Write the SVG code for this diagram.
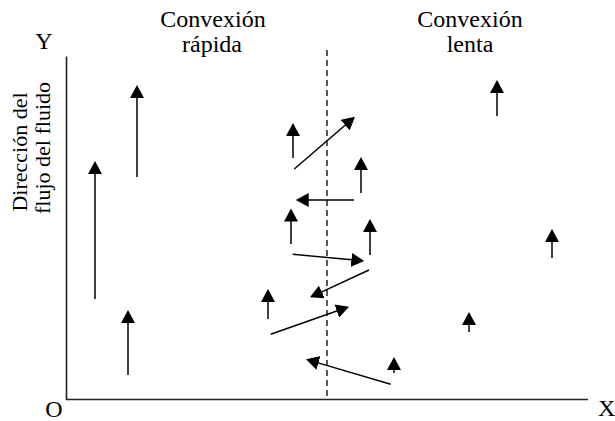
<svg xmlns="http://www.w3.org/2000/svg" width="615" height="421" viewBox="0 0 615 421">
<style>
.t{font-family:'Liberation Serif','Times New Roman','DejaVu Serif',serif;fill:#000}
.lbl{font-size:24px;text-anchor:middle}
.side{font-size:22px;text-anchor:middle}
.axis{stroke:#222;stroke-width:1.6;fill:none}
.arr{stroke:#000;stroke-width:1.5;fill:none;marker-end:url(#ah)}
.dash{stroke:#000;stroke-width:1.3;stroke-dasharray:6 4;fill:none}
</style>
<defs>
<marker id="ah" markerUnits="userSpaceOnUse" markerWidth="14" markerHeight="14" refX="3" refY="7" orient="auto" viewBox="0 0 14 14">
<path d="M0,0 L13,7 L0,14 z" fill="#000"/>
</marker>
</defs>
<g id="labels" font-family="Liberation Serif, serif">
<text class="t lbl" x="213" y="27">Convexión</text>
<text class="t lbl" x="212" y="52">rápida</text>
<text class="t lbl" x="470" y="27">Convexión</text>
<text class="t lbl" x="470" y="52">lenta</text>
<text class="t lbl" x="44" y="48.5">Y</text>
<text class="t lbl" x="54" y="417">O</text>
<text class="t" x="598" y="416" font-size="24">X</text>
<text class="t side" transform="translate(26.5,152) rotate(-90)">Dirección del</text>
<text class="t side" transform="translate(50,148) rotate(-90)">flujo del fluido</text>
</g>
<g id="axes">
<path class="axis" d="M66.5,56.5 V399.5 H588"/>
<line class="dash" x1="327" y1="50" x2="327" y2="399"/>
</g>
<g id="connectors">
<line class="arr" x1="137" y1="177" x2="137" y2="95"/>
<line class="arr" x1="95" y1="299" x2="95" y2="171"/>
<line class="arr" x1="293" y1="158" x2="293" y2="133"/>
<line class="arr" x1="128" y1="375" x2="128" y2="320"/>
<line class="arr" x1="268" y1="319" x2="268" y2="299"/>
<line class="arr" x1="291" y1="244" x2="291" y2="218.5"/>
<line class="arr" x1="361" y1="193" x2="361" y2="167"/>
<line class="arr" x1="370" y1="255" x2="370" y2="229"/>
<line class="arr" x1="394" y1="373" x2="394" y2="367"/>
<line class="arr" x1="497" y1="116" x2="497" y2="90"/>
<line class="arr" x1="552" y1="258" x2="552" y2="239"/>
<line class="arr" x1="469" y1="332" x2="469" y2="322"/>
<line class="arr" x1="294.3" y1="169" x2="347.4" y2="123.2"/>
<line class="arr" x1="354" y1="200" x2="305.7" y2="200"/>
<line class="arr" x1="292.7" y1="254.3" x2="354.3" y2="260.1"/>
<line class="arr" x1="369" y1="270" x2="319.1" y2="293.1"/>
<line class="arr" x1="270.7" y1="334.3" x2="339.6" y2="310"/>
<line class="arr" x1="390.7" y1="384.3" x2="315.6" y2="362.1"/>
</g>
</svg>
